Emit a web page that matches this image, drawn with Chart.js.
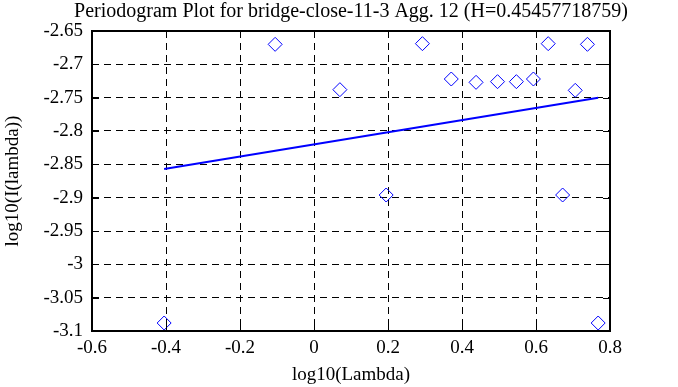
<!DOCTYPE html>
<html>
<head>
<meta charset="utf-8">
<script src="https://cdn.jsdelivr.net/npm/chart.js@4"></script>
<style>
    html, body { margin: 0; padding: 0; background: #fff; }
    #wrap { width: 678px; height: 387px; }
</style>
</head>
<body>
<div id="wrap"><canvas id="grafico"></canvas></div>
<script>
// Dados
const logLambda = [-0.405, -0.105, 0.070, 0.195, 0.293, 0.371, 0.438, 0.496, 0.547, 0.593, 0.633, 0.672, 0.706, 0.739, 0.768];
const logPeriodograma = [-3.088, -2.670, -2.738, -2.896, -2.669, -2.722, -2.727, -2.726, -2.726, -2.722, -2.669, -2.896, -2.739, -2.670, -3.088];

// Reta ajustada (extremos)
const retaX = [-0.405, 0.768];
const retaY = [-2.857, -2.750];

// Marcas dos eixos
const xTicks = [-0.6, -0.4, -0.2, 0, 0.2, 0.4, 0.6, 0.8];
const xTickLabels = ['-0.6', '-0.4', '-0.2', '0', '0.2', '0.4', '0.6', '0.8'];
const yTicks = [-3.1, -3.05, -3, -2.95, -2.9, -2.85, -2.8, -2.75, -2.7, -2.65];
const yTickLabels = ['-3.1', '-3.05', '-3', '-2.95', '-2.9', '-2.85', '-2.8', '-2.75', '-2.7', '-2.65'];

const titulo = 'Periodogram Plot for bridge-close-11-3 Agg. 12 (H=0.45457718759)';

Chart.defaults.font.family = '"Liberation Serif", "DejaVu Serif", serif';
Chart.defaults.font.size = 19;
Chart.defaults.color = '#000';

// Caixa em volta da área e marcas internas
const caixaPlugin = {
    id: 'caixa',
    afterLayout(chart) {
        // centralizar o título sobre a área do gráfico
        const t = chart.titleBlock;
        if (t) {
            const meio = (chart.chartArea.left + chart.chartArea.right) / 2;
            t.left = meio - 300;
            t.right = meio + 300;
            t.width = 600;
        }
    },
    afterDatasetsDraw(chart) {
        const { ctx, chartArea: a, scales } = chart;
        ctx.save();
        ctx.strokeStyle = '#000';
        ctx.lineWidth = 1;
        ctx.setLineDash([]);
        ctx.beginPath();
        xTicks.forEach(v => {
            const px = Math.round(scales.x.getPixelForValue(v)) + 0.5;
            ctx.moveTo(px, a.top); ctx.lineTo(px, a.top + 6);
            ctx.moveTo(px, a.bottom); ctx.lineTo(px, a.bottom - 6);
        });
        yTicks.forEach(v => {
            const py = Math.round(scales.y.getPixelForValue(v)) + 0.5;
            ctx.moveTo(a.left, py); ctx.lineTo(a.left + 7, py);
            ctx.moveTo(a.right, py); ctx.lineTo(a.right - 7, py);
        });
        ctx.stroke();
        ctx.lineWidth = 2;
        ctx.strokeRect(a.left, a.top, a.right - a.left, a.bottom - a.top);
        ctx.restore();
    }
};

const pontos = logLambda.map((x, i) => ({ x: x, y: logPeriodograma[i] }));
const reta = retaX.map((x, i) => ({ x: x, y: retaY[i] }));

new Chart(document.getElementById('grafico'), {
    type: 'scatter',
    data: {
        datasets: [
            {
                label: 'Periodograma',
                data: pontos,
                pointStyle: 'rectRot',
                pointRadius: 7,
                pointBorderWidth: 1,
                borderColor: '#0000ff',
                backgroundColor: 'rgba(0,0,0,0)',
                showLine: false
            },
            {
                label: 'Ajuste',
                data: reta,
                showLine: true,
                borderColor: '#0000ff',
                borderWidth: 2,
                pointRadius: 0
            }
        ]
    },
    options: {
        responsive: true,
        maintainAspectRatio: false,
        animation: false,
        layout: {
            padding: { left: 0, right: 68, top: 0, bottom: 0 }
        },
        plugins: {
            legend: { display: false },
            tooltip: { enabled: false },
            title: {
                display: true,
                text: titulo,
                font: { size: 20, weight: 'normal' },
                padding: { top: 0, bottom: 7 }
            }
        },
        scales: {
            x: {
                type: 'linear',
                min: -0.6,
                max: 0.8,
                afterBuildTicks: function(scale) {
                    scale.ticks = xTicks.map(v => ({ value: v }));
                },
                afterFit: function(scale) {
                    scale.height = 56;
                },
                ticks: {
                    padding: 6,
                    maxRotation: 0,
                    callback: function(value, index) {
                        return xTickLabels[index];
                    }
                },
                grid: {
                    color: '#000',
                    lineWidth: 1,
                    drawTicks: false
                },
                border: { display: false, dash: [7, 5] },
                title: {
                    display: true,
                    text: 'log10(Lambda)',
                    padding: { top: 0, bottom: 1 }
                }
            },
            y: {
                type: 'linear',
                min: -3.1,
                max: -2.65,
                afterBuildTicks: function(scale) {
                    scale.ticks = yTicks.map(v => ({ value: v }));
                },
                afterFit: function(scale) {
                    scale.width = 92;
                },
                ticks: {
                    padding: 9,
                    callback: function(value, index) {
                        return yTickLabels[index];
                    }
                },
                grid: {
                    color: '#000',
                    lineWidth: 1,
                    drawTicks: false
                },
                border: { display: false, dash: [7, 5] },
                title: {
                    display: true,
                    text: 'log10(I(lambda))',
                    padding: { top: 2, bottom: 0 }
                }
            }
        }
    },
    plugins: [caixaPlugin]
});
</script>
</body>
</html>
